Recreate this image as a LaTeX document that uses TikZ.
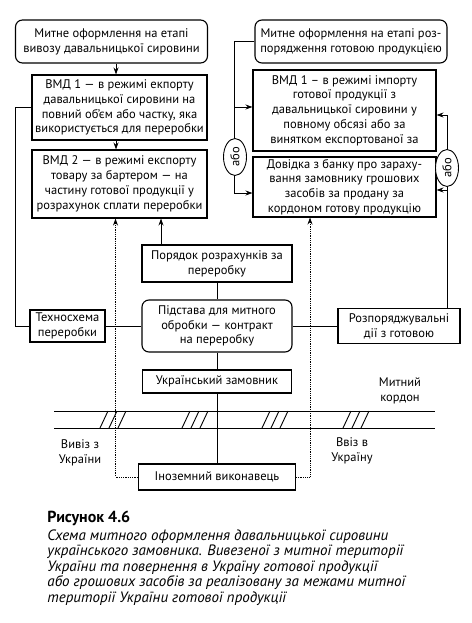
\documentclass[tikz,border=0pt]{standalone}
\usepackage{fontspec}
\setmainfont{PT Sans}
\usetikzlibrary{arrows.meta}
\usetikzlibrary{shapes.geometric}

\tikzset{
  box/.style={draw,line width=1.1pt,align=center,inner sep=1pt},
  rbox/.style={box,rounded corners=7pt},
  ornode/.style={ellipse,draw,line width=0.9pt,fill=white,rotate=90,inner sep=0pt,
                 minimum width=37pt,minimum height=23pt},
  dots/.style={densely dotted,line width=0.8pt},
}

\begin{document}
\begin{tikzpicture}[x=1pt,y=-1pt,line width=0.9pt,
                    >={Stealth[length=7pt,width=5pt]},
                    font=\fontsize{12.5}{14.8}\selectfont]
		\useasboundingbox (0,0) rectangle (471,623);
		% left column
		\node[rbox,minimum width=192pt,minimum height=43pt] (m1) at (111.5,41.5)
		    {Митне оформлення на етапі\\вивозу давальницької сировини};
		\node[box,minimum width=175pt,minimum height=65pt] (e1) at (119.5,107.5)
		    {ВМД 1 — в режимі екпорту\\давальницької сировини на\\повний об’єм або частку, яка\\використується для переробки};
		\node[box,minimum width=175pt,minimum height=68pt] (e2) at (119.5,184)
		    {ВМД 2 — в режимі експорту\\товару за бартером — на\\частину готової продукції у\\розрахунок сплати переробки};
		% right column
		\node[rbox,minimum width=192pt,minimum height=43pt] (m2) at (351,41.5)
		    {Митне оформлення на етапі роз-\\порядження готовою продукцією};
		\node[box,minimum width=183pt,minimum height=81pt] (i1) at (344.5,110.5)
		    {ВМД 1 – в режимі імпорту\\готової продукції з\\давальницької сировини у\\повному обсязі або за\\винятком експортованої за};
		\node[box,minimum width=183pt,minimum height=60pt] (d) at (344.5,187)
		    {Довідка з банку про зараху-\\вання замовнику грошових\\засобів за продану за\\кордоном готову продукцію};
		% middle
		\node[box,minimum width=150pt,minimum height=37pt] (p) at (217,263.5)
		    {Порядок розрахунків за\\переробку};
		\node[rbox,minimum width=150pt,minimum height=52pt] (s) at (217,326)
		    {Підстава для митного\\обробки — контракт\\на переробку};
		\node[box,minimum width=75pt,minimum height=32pt] (t) at (67.5,326)
		    {Техносхема\\переробки};
		\node[box,minimum width=122pt,minimum height=35pt] (r) at (399,326)
		    {Розпоряджувальні\\дії з готовою};
		\node[box,minimum width=149pt,minimum height=23pt] (u) at (217,381.5)
		    {Український замовник};
		\node[box,minimum width=157pt,minimum height=26pt] (f) at (217,477)
		    {Іноземний виконавець};

		% customs border
		\draw (54,411) -- (435,411);
		\draw (54,428) -- (435,428);
		\foreach \g in {100,182,262,343}
		  \foreach \k in {0,9,18}
		    \draw (\g+\k,428) -- (\g+\k+8,411);
		\node[align=center] (k) at (400,391) {Митний\\кордон};
		\node[align=center] (vy) at (80,453) {Вивіз з\\України};
		\node[align=center] (vv) at (352,451) {Ввіз в\\Україну};

		% connectors
		\draw[->] ([xshift=4.5pt]m1.south) -- ([xshift=4.5pt]m1.south |- e1.north);
		\draw[->] ([xshift=-3.5pt]e1.south) -- ([xshift=-3.5pt]e1.south |- e2.north);
		\draw[->] ([xshift=-56pt]p.north) -- ([xshift=-56pt]p.north |- e2.south);
		\draw (t.west) -- ++(-14pt,0) |- (e1.west);
		\path (t) edge (s);
		\path (s) edge (r);
		\path (p) edge (s);
		\path (s) edge (u);
		\path (u) edge (f);
		\draw[dots,->] (f.west) -| ([xshift=-4pt]e2.south);
		\draw[dots,->] (f.east) -| ([xshift=-34.5pt]d.south);

		\coordinate (rr) at ([xshift=48pt]r.north);
		\draw[->] (rr) |- ([yshift=-4.5pt]i1.east);
		\draw[->] ([yshift=-3pt]rr |- d.east) -- ([yshift=-3pt]d.east);
		\draw[->] (m2.west) -- ++(-20pt,0) |- ([yshift=3.5pt]i1.west);
		\draw[->] (m2.west) -- ++(-20pt,0) |- ([yshift=-6pt]d.west);
		\node[ornode] (o1) at (235,157) {або};
		\node[ornode] (o2) at (447,168) {або};

		% caption
		\node[anchor=north west,inner sep=0pt,font=\fontsize{16}{17}\selectfont\bfseries] (cap) at (47,511)
		    {Рисунок 4.6};
		\node[anchor=north west,inner sep=0pt,align=left,font=\fontsize{15}{15.6}\selectfont\itshape] (txt) at (47,529)
		    {Схема митного оформлення давальницької сировини\\
		     українського замовника. Вивезеної з митної території\\
		     України та повернення в Україну готової продукції\\
		     або грошових засобів за реалізовану за межами митної\\
		     території України готової продукції};
\end{tikzpicture}
\end{document}
